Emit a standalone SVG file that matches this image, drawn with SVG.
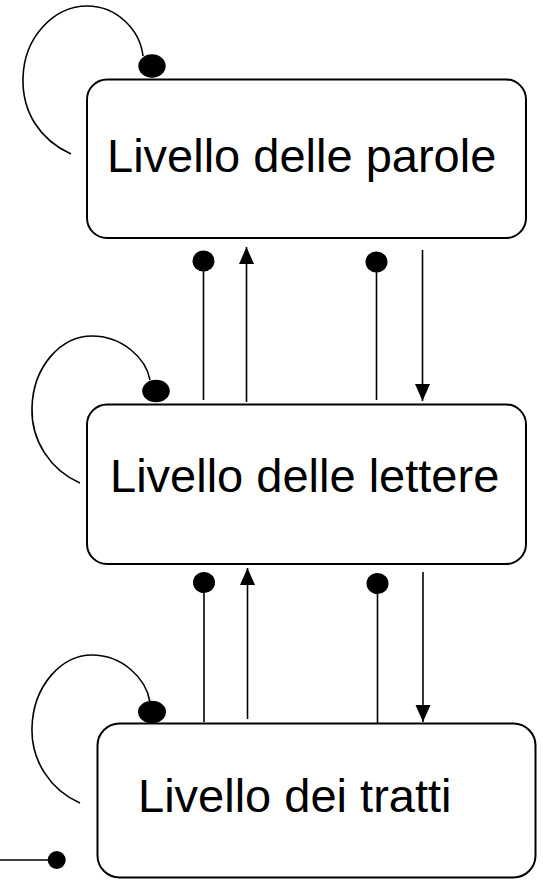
<svg xmlns="http://www.w3.org/2000/svg" width="543" height="880" viewBox="0 0 543 880">
  <style>
    .box { fill: #ffffff; stroke: #000000; stroke-width: 2; }
    .label { font-family: "Liberation Sans", Arial, sans-serif; font-size: 47px; fill: #000000; }
    .wire { fill: none; stroke: #000000; stroke-width: 1.6; }
    .dot { fill: #000000; }
  </style>
  <defs>
    <marker id="arrow" markerUnits="userSpaceOnUse" markerWidth="18" markerHeight="16" refX="17" refY="7.5" orient="auto">
      <path d="M0,0 L17,7.5 L0,15 z" fill="#000000"/>
    </marker>
  </defs>

  <rect width="543" height="880" fill="#ffffff"/>

  <!-- connectors -->
  <g id="connectors">
    <!-- self loops -->
    <path class="wire" d="M71,154 C40,140 22,112 23,78 C24,36 55,6 87,6 C117,6 140,30 143,56"/>
    <ellipse class="dot" cx="152" cy="66" rx="13.7" ry="11.7"/>

    <path class="wire" d="M80,483 C50,470 31,440 32,408 C33,365 62,336 92,336 C122,336 146,358 150,380"/>
    <ellipse class="dot" cx="156" cy="391" rx="13.8" ry="11.3"/>

    <path class="wire" d="M80,803 C50,790 31,760 32,728 C33,685 62,655 92,655 C122,655 146,678 150,702"/>
    <ellipse class="dot" cx="152" cy="712" rx="14" ry="11.2"/>

    <!-- words <-> letters -->
    <line class="wire" x1="203.5" y1="400" x2="203.5" y2="262"/>
    <ellipse class="dot" cx="203.5" cy="261" rx="11" ry="10.5"/>
    <line class="wire" x1="246.5" y1="402" x2="246.5" y2="247" marker-end="url(#arrow)"/>
    <line class="wire" x1="376.5" y1="400" x2="376.5" y2="262"/>
    <ellipse class="dot" cx="376.5" cy="262" rx="11" ry="10.5"/>
    <line class="wire" x1="422.5" y1="250" x2="422.5" y2="401" marker-end="url(#arrow)"/>

    <!-- letters <-> features -->
    <line class="wire" x1="204" y1="722" x2="204" y2="583"/>
    <ellipse class="dot" cx="204" cy="582.5" rx="11" ry="10.5"/>
    <line class="wire" x1="247.5" y1="719" x2="247.5" y2="568" marker-end="url(#arrow)"/>
    <line class="wire" x1="377.5" y1="723" x2="377.5" y2="584"/>
    <ellipse class="dot" cx="377.5" cy="583.5" rx="11" ry="10.5"/>
    <line class="wire" x1="423" y1="572" x2="423" y2="722" marker-end="url(#arrow)"/>

    <!-- input -->
    <line class="wire" x1="0" y1="860" x2="48" y2="860"/>
    <circle class="dot" cx="56.7" cy="860" r="9"/>
  </g>

  <g id="livello-parole">
    <rect class="box" x="87" y="79.5" width="439" height="158.5" rx="20" ry="20"/>
    <text class="label" x="107" y="172">Livello delle parole</text>
  </g>

  <g id="livello-lettere">
    <rect class="box" x="87" y="404.5" width="439" height="159.5" rx="20" ry="20"/>
    <text class="label" x="110" y="492">Livello delle lettere</text>
  </g>

  <g id="livello-tratti">
    <rect class="box" x="97.5" y="723.5" width="438" height="154" rx="22" ry="22"/>
    <text class="label" x="138" y="812">Livello dei tratti</text>
  </g>
</svg>
